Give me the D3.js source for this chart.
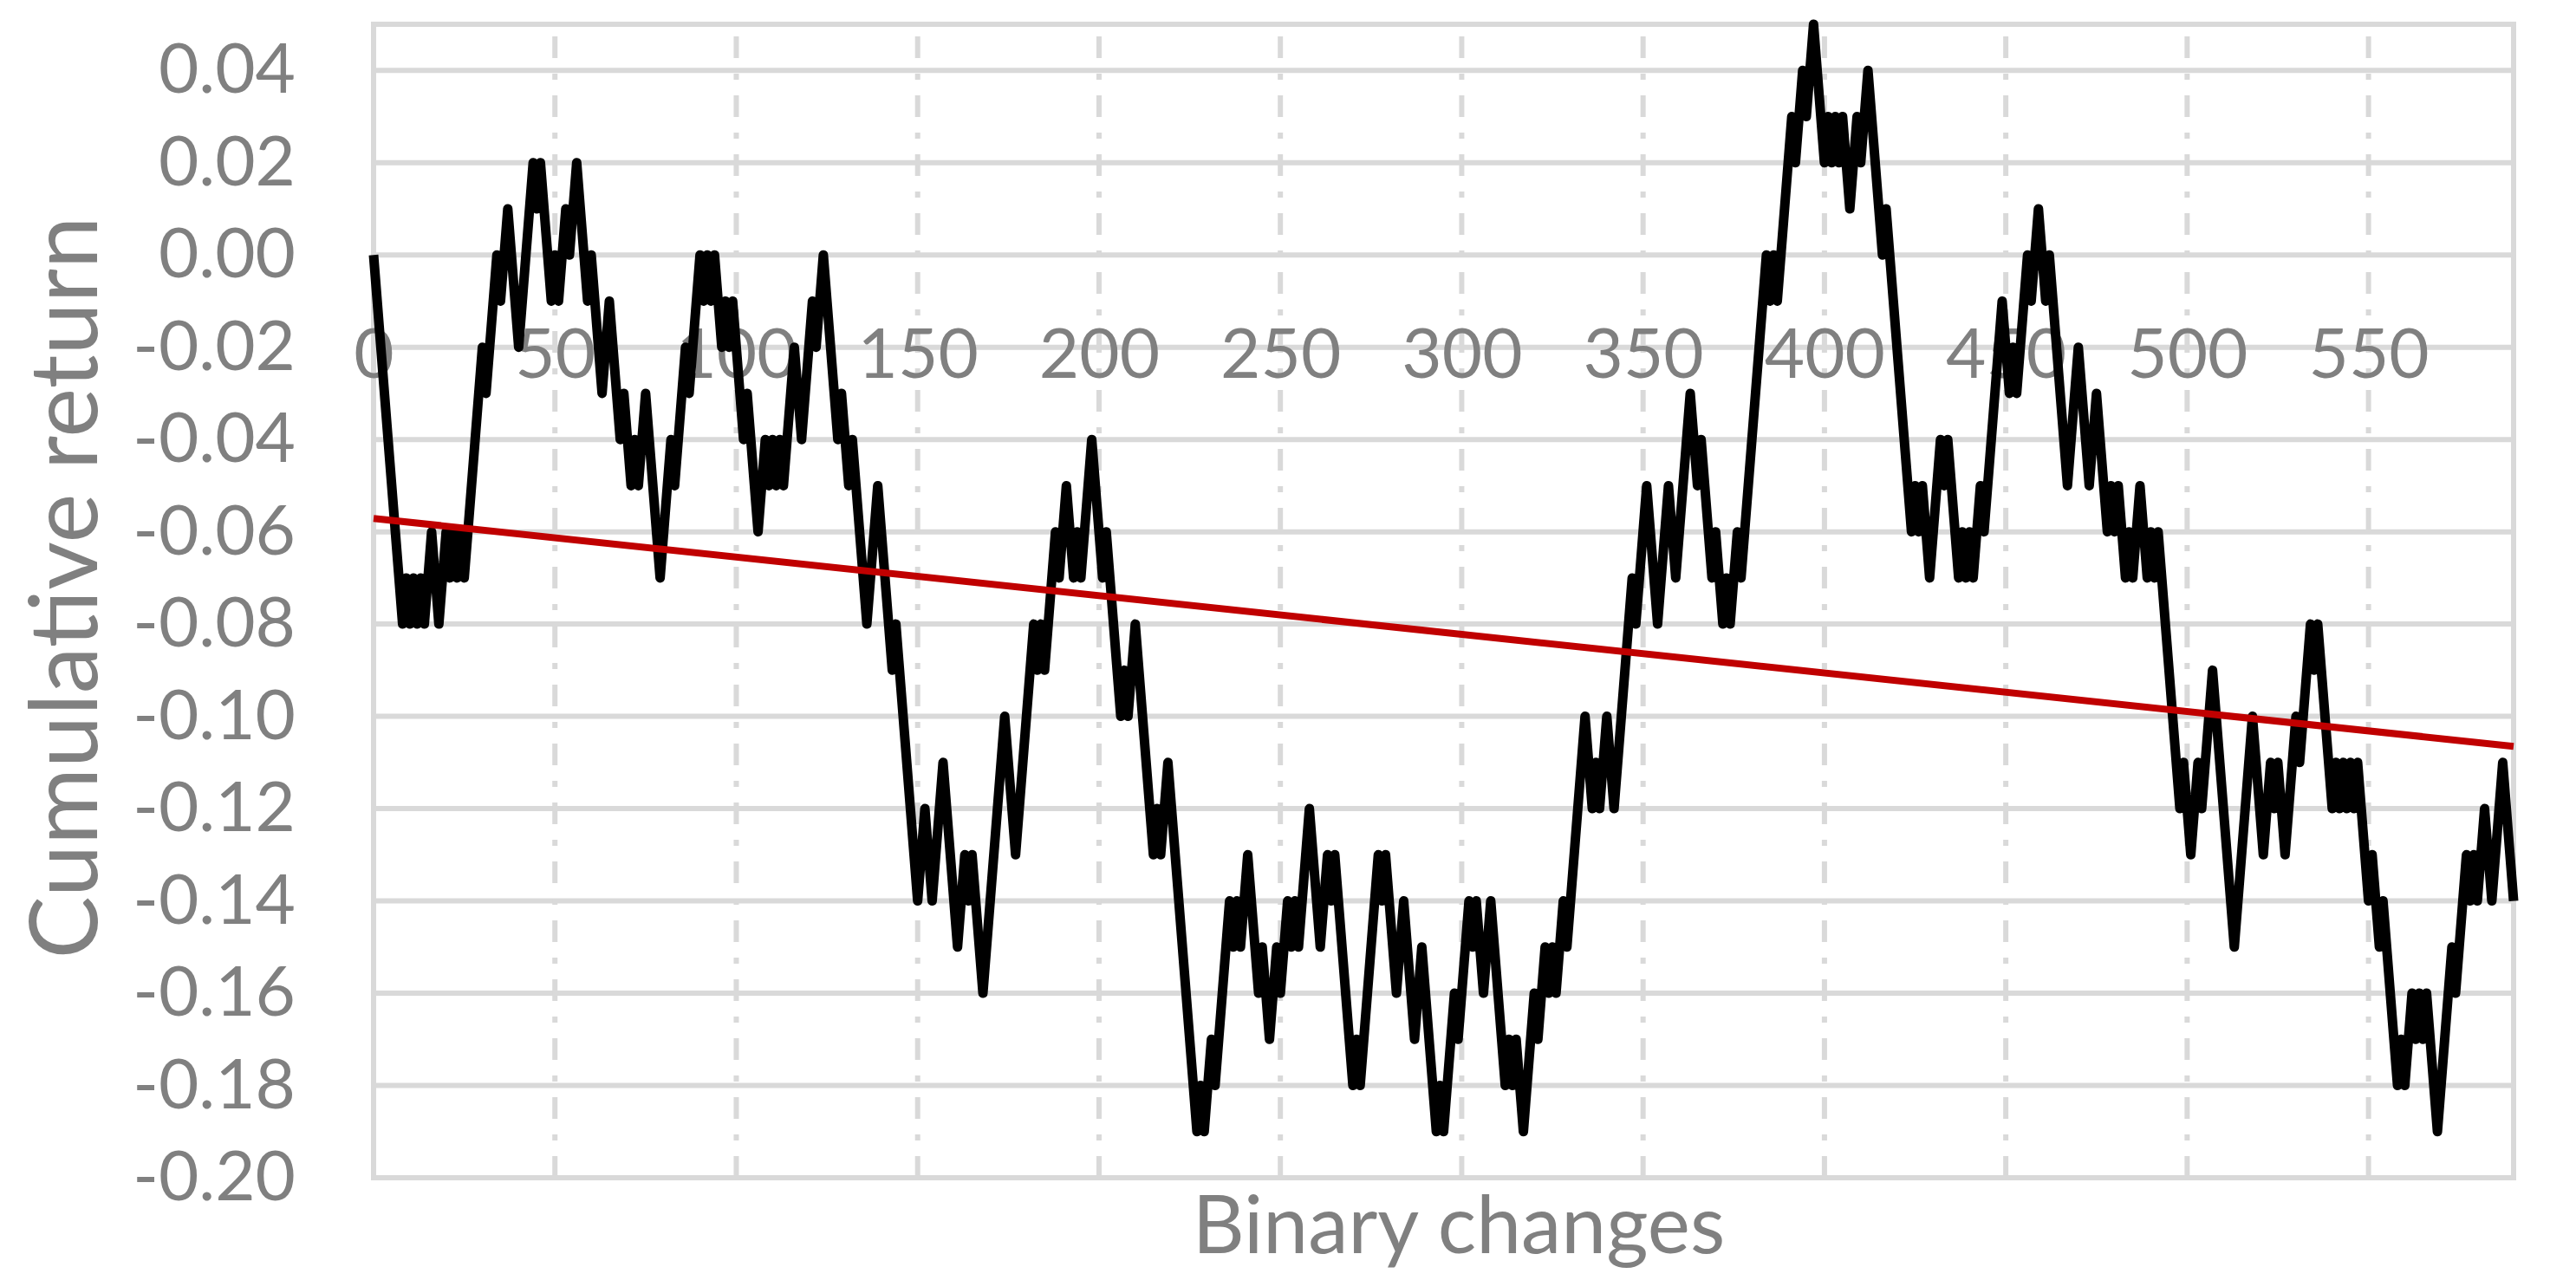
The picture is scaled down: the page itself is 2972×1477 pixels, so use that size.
<!DOCTYPE html>
<html>
<head>
<meta charset="utf-8">
<script src="https://cdn.jsdelivr.net/npm/d3@7"></script>
<style>
  body { margin: 0; background: #fff; }
  text { font-family: Lato, "Open Sans", sans-serif; fill: #808080; }
</style>
</head>
<body>
<div id="chart"></div>
<script>
// turning points of the cumulative return walk (step index, value)
const turnIndex = [
  0, 8, 9, 10, 11, 12, 13, 14, 16, 18, 20, 21, 22, 23, 24, 25, 30, 31, 34, 35, 37, 40, 44, 45, 46, 49,
  50, 51, 53, 54, 56, 59, 60, 63, 65, 68, 69, 71, 72, 73, 75, 79, 82, 83, 86, 87, 90, 91, 92, 93, 94,
  96, 97, 98, 99, 102, 103, 106, 108, 109, 110, 111, 112, 113, 116, 118, 121, 122, 124, 128, 129, 131,
  132, 136, 139, 142, 143, 144, 150, 152, 154, 157, 161, 163, 164, 165, 168, 174, 177, 182, 183, 184,
  185, 188, 189, 191, 193, 194, 195, 198, 201, 202, 206, 207, 208, 210, 215, 216, 217, 219, 227, 228,
  229, 231, 232, 233, 236, 237, 238, 239, 241, 244, 245, 247, 249, 250, 252, 253, 254, 255, 258, 261,
  263, 264, 265, 270, 271, 272, 277, 278, 279, 282, 284, 287, 289, 293, 294, 295, 298, 299, 302, 303,
  304, 306, 308, 312, 313, 314, 315, 317, 320, 321, 323, 324, 325, 326, 328, 329, 334, 336, 337, 338,
  340, 342, 347, 348, 351, 354, 357, 359, 363, 365, 366, 369, 370, 371, 372, 373, 374, 376, 377, 378,
  384, 385, 386, 387, 388, 391, 392, 394, 395, 397, 400, 401, 402, 403, 404, 405, 406, 407, 409, 410,
  412, 416, 417, 424, 425, 426, 427, 428, 429, 432, 433, 434, 437, 438, 439, 440, 441, 443, 444, 449,
  451, 452, 453, 456, 457, 459, 460, 461, 462, 467, 470, 473, 475, 478, 479, 480, 481, 483, 484, 485,
  487, 489, 490, 491, 492, 498, 499, 501, 503, 504, 507, 513, 518, 521, 523, 524, 525, 527, 530, 531,
  532, 534, 535, 536, 540, 541, 542, 543, 544, 545, 546, 547, 550, 551, 553, 554, 558, 559, 560, 562,
  563, 564, 565, 566, 569, 573, 574, 575, 577, 578, 579, 580, 582, 584, 587, 590
];
const turnValue = [
  0, -0.08, -0.07, -0.08, -0.07, -0.08, -0.07, -0.08, -0.06, -0.08, -0.06, -0.07, -0.06, -0.07, -0.06, -0.07, -0.02, -0.03, 0, -0.01, 0.01, -0.02, 0.02, 0.01, 0.02, -0.01,
  0, -0.01, 0.01, 0, 0.02, -0.01, 0, -0.03, -0.01, -0.04, -0.03, -0.05, -0.04, -0.05, -0.03, -0.07, -0.04, -0.05, -0.02, -0.03, 0, -0.01, 0, -0.01, 0,
  -0.02, -0.01, -0.02, -0.01, -0.04, -0.03, -0.06, -0.04, -0.05, -0.04, -0.05, -0.04, -0.05, -0.02, -0.04, -0.01, -0.02, 0, -0.04, -0.03, -0.05,
  -0.04, -0.08, -0.05, -0.08, -0.09, -0.08, -0.14, -0.12, -0.14, -0.11, -0.15, -0.13, -0.14, -0.13, -0.16, -0.10, -0.13, -0.08, -0.09, -0.08,
  -0.09, -0.06, -0.07, -0.05, -0.07, -0.06, -0.07, -0.04, -0.07, -0.06, -0.10, -0.09, -0.10, -0.08, -0.13, -0.12, -0.13, -0.11, -0.19, -0.18,
  -0.19, -0.17, -0.18, -0.17, -0.14, -0.15, -0.14, -0.15, -0.13, -0.16, -0.15, -0.17, -0.15, -0.16, -0.14, -0.15, -0.14, -0.15, -0.12, -0.15,
  -0.13, -0.14, -0.13, -0.18, -0.17, -0.18, -0.13, -0.14, -0.13, -0.16, -0.14, -0.17, -0.15, -0.19, -0.18, -0.19, -0.16, -0.17, -0.14, -0.15,
  -0.14, -0.16, -0.14, -0.18, -0.17, -0.18, -0.17, -0.19, -0.16, -0.17, -0.15, -0.16, -0.15, -0.16, -0.14, -0.15, -0.10, -0.12, -0.11, -0.12,
  -0.10, -0.12, -0.07, -0.08, -0.05, -0.08, -0.05, -0.07, -0.03, -0.05, -0.04, -0.07, -0.06, -0.07, -0.08, -0.07, -0.08, -0.06, -0.07, -0.06,
  0, -0.01, 0, -0.01, 0, 0.03, 0.02, 0.04, 0.03, 0.05, 0.02, 0.03, 0.02, 0.03, 0.02, 0.03, 0.02, 0.01, 0.03, 0.02,
  0.04, 0, 0.01, -0.06, -0.05, -0.06, -0.05, -0.06, -0.07, -0.04, -0.05, -0.04, -0.07, -0.06, -0.07, -0.06, -0.07, -0.05, -0.06, -0.01,
  -0.03, -0.02, -0.03, 0, -0.01, 0.01, 0, -0.01, 0, -0.05, -0.02, -0.05, -0.03, -0.06, -0.05, -0.06, -0.05, -0.07, -0.06, -0.07,
  -0.05, -0.07, -0.06, -0.07, -0.06, -0.12, -0.11, -0.13, -0.11, -0.12, -0.09, -0.15, -0.10, -0.13, -0.11, -0.12, -0.11, -0.13, -0.10, -0.11,
  -0.10, -0.08, -0.09, -0.08, -0.12, -0.11, -0.12, -0.11, -0.12, -0.11, -0.12, -0.11, -0.14, -0.13, -0.15, -0.14, -0.18, -0.17, -0.18, -0.16,
  -0.17, -0.16, -0.17, -0.16, -0.19, -0.15, -0.16, -0.15, -0.13, -0.14, -0.13, -0.14, -0.12, -0.14, -0.11, -0.14
];

// linear trend, start and end
const trendIndex = [0, 590];
const trendValue = [-0.0571, -0.1065];

const xTicks = [0, 50, 100, 150, 200, 250, 300, 350, 400, 450, 500, 550];
const yTicks = [-0.20, -0.18, -0.16, -0.14, -0.12, -0.10, -0.08, -0.06, -0.04, -0.02, 0.00, 0.02, 0.04];

const W = 2972, H = 1477;
const plotLeft = 431, plotRight = 2900, plotTop = 28, plotBottom = 1359;

const svg = d3.select("#chart").append("svg")
    .attr("width", W)
    .attr("height", H);

const x = d3.scaleLinear().domain([0, 590]).range([plotLeft, plotRight]);
const y = d3.scaleLinear().domain([-0.20, 0.05]).range([plotBottom, plotTop]);

const grid = "#d9d9d9";

// horizontal gridlines
svg.append("g")
    .selectAll("line")
    .data(yTicks)
    .enter()
    .append("line")
    .attr("x1", plotLeft)
    .attr("x2", plotRight)
    .attr("y1", d => y(d))
    .attr("y2", d => y(d))
    .style("stroke", grid)
    .style("stroke-width", 6);

// vertical gridlines, long dash dot, drawn bottom up
svg.append("g")
    .selectAll("line")
    .data(xTicks.filter(d => d > 0))
    .enter()
    .append("line")
    .attr("x1", d => x(d))
    .attr("x2", d => x(d))
    .attr("y1", plotBottom)
    .attr("y2", plotTop)
    .style("stroke", grid)
    .style("stroke-width", 6)
    .style("stroke-dasharray", "25 18 7 18");

// plot area border
svg.append("rect")
    .attr("x", plotLeft)
    .attr("y", plotTop)
    .attr("width", plotRight - plotLeft)
    .attr("height", plotBottom - plotTop)
    .style("fill", "none")
    .style("stroke", grid)
    .style("stroke-width", 6);

// axis labels
const fmt = d3.formatLocale({decimal: ".", thousands: ",", grouping: [3], currency: ["", ""], minus: "-"}).format(".2f");

const yAxis = svg.append("g")
    .attr("transform", `translate(${plotLeft},0)`)
    .call(d3.axisLeft(y).tickValues(yTicks).tickFormat(fmt).tickSize(0).tickPadding(90));
yAxis.select(".domain").remove();
yAxis.selectAll("text").style("font-size", "80px").style("fill", "#808080");

const xAxis = svg.append("g")
    .attr("transform", `translate(0,${y(0)})`)
    .call(d3.axisBottom(x).tickValues(xTicks).tickFormat(d3.format("d")).tickSize(0).tickPadding(85));
xAxis.select(".domain").remove();
xAxis.selectAll("text").style("font-size", "80px").style("fill", "#808080");

// series
const points = turnIndex.map((d, i) => [d, turnValue[i]]);
svg.append("path")
    .datum(points)
    .attr("d", d3.line().x(d => x(d[0])).y(d => y(d[1])))
    .style("fill", "none")
    .style("stroke", "#000")
    .style("stroke-width", 11)
    .style("stroke-linejoin", "round");

const trend = trendIndex.map((d, i) => [d, trendValue[i]]);
svg.append("path")
    .datum(trend)
    .attr("d", d3.line().x(d => x(d[0])).y(d => y(d[1])))
    .style("fill", "none")
    .style("stroke", "#c00000")
    .style("stroke-width", 8);

// titles
svg.append("text")
    .attr("x", 1683)
    .attr("y", 1446)
    .attr("text-anchor", "middle")
    .style("font-size", "93px")
    .text("Binary changes");

svg.append("text")
    .attr("transform", "translate(112,678) rotate(-90)")
    .attr("text-anchor", "middle")
    .style("font-size", "108px")
    .text("Cumulative return");
</script>
</body>
</html>
